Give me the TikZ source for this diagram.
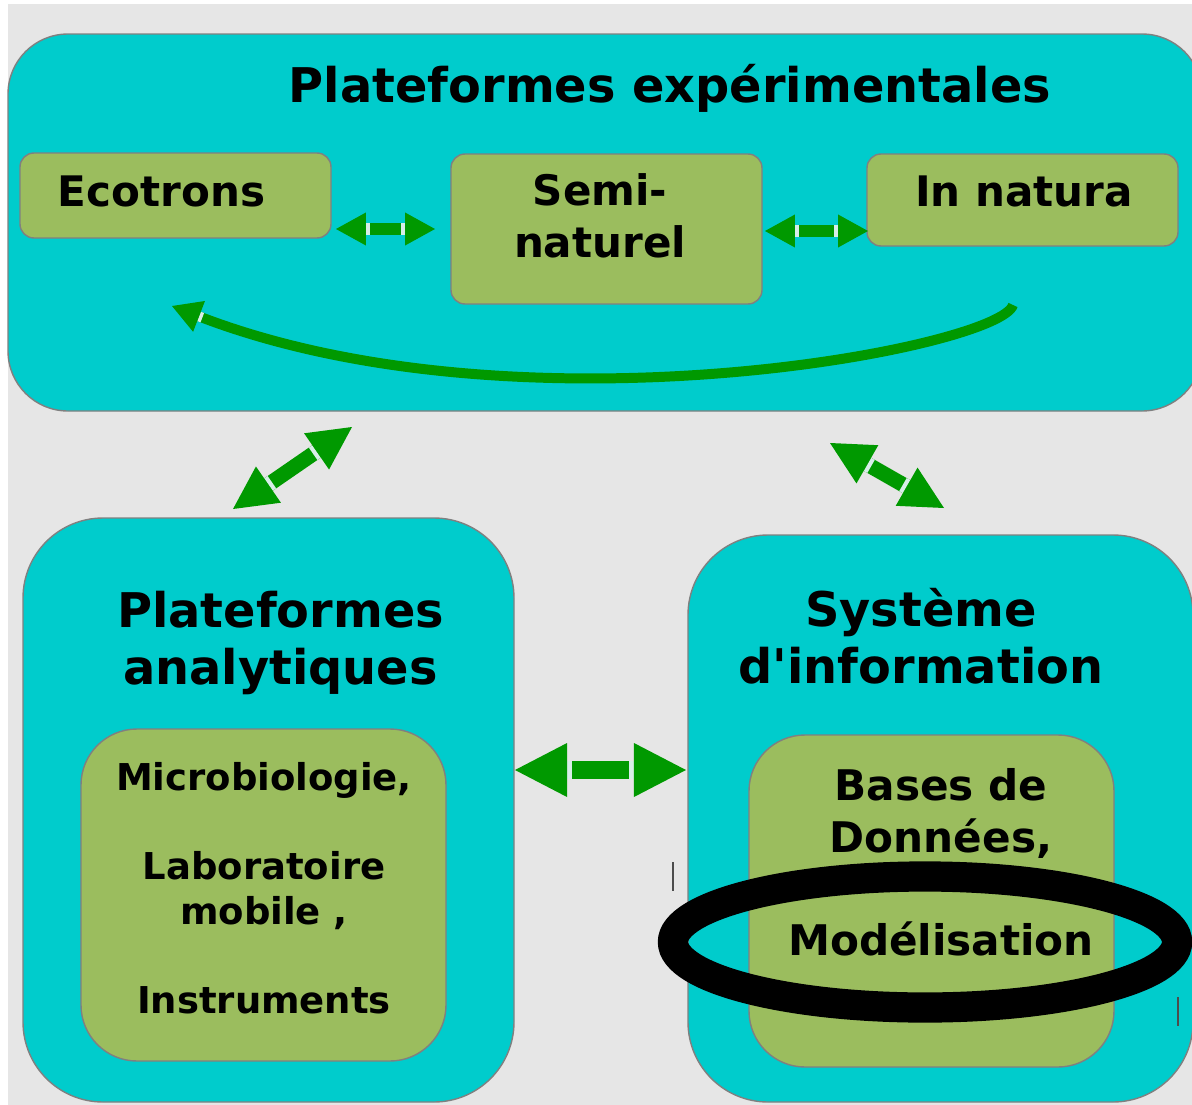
\documentclass[tikz,border=0pt]{standalone}
\usepackage{fontspec}
\setmainfont{DejaVu Sans}
\usetikzlibrary{arrows.meta, positioning, fit, shapes.geometric}
\definecolor{bggray}{RGB}{230,230,230}
\definecolor{platcyan}{RGB}{0,204,204}
\definecolor{boxgreen}{RGB}{155,189,94}
\definecolor{arrgreen}{RGB}{0,153,0}
\definecolor{rimgray}{RGB}{128,128,128}
\definecolor{slitcol}{RGB}{215,238,232}
\newcommand\ttlfont{\fontsize{34}{40.5}\selectfont\bfseries}
\newcommand\boxfont{\fontsize{29.9}{36.3}\selectfont\bfseries}
\newcommand\bddfont{\fontsize{30}{36.6}\selectfont\bfseries}
\newcommand\labfont{\fontsize{26.3}{31.6}\selectfont\bfseries}

\begin{document}
\begin{tikzpicture}[
  x=0.025cm, y=-0.025cm,
  bigbox/.style={draw=rimgray, line width=1pt, fill=platcyan, inner sep=0pt},
  subbox/.style={draw=rimgray, line width=1pt, fill=boxgreen, inner sep=0pt},
  txt/.style={inner sep=0pt, anchor=base, align=center},
  dbl/.style n args={4}{draw=arrgreen, line width=#1,
    arrows={{Triangle[length=#2, width=#3, line width=0pt, sep=0pt] Rectangle[length=#4, width=#1, line width=0pt, sep=0pt, color=slitcol, fill=slitcol]}-{Rectangle[length=#4, width=#1, line width=0pt, sep=0pt, color=slitcol, fill=slitcol] Triangle[length=#2, width=#3, line width=0pt, sep=0pt]}}},
  arrsmall/.style={dbl={8.5pt}{21.3pt}{23.5pt}{2.8pt}},
  arrdiag/.style={dbl={10.7pt}{30.6pt}{31.3pt}{3pt}},
  arrmid/.style={dbl={12.8pt}{37pt}{38.4pt}{3.5pt}},
  arrcurve/.style={draw=arrgreen, line width=7.1pt,
    -{Rectangle[length=2.5pt, width=7.1pt, line width=0pt, sep=0pt, color=slitcol, fill=slitcol] Triangle[length=20.6pt, width=23.5pt, line width=0pt, sep=0pt]}},
]
\fill[white] (0,0) rectangle (1192,1105);
\useasboundingbox (0,0) rectangle (1192,1105);
\clip (0,0) rectangle (1192,1105);
\fill[bggray] (8,4) rectangle (1192,1105);

% Plateformes experimentales
\node[bigbox, rounded corners=1.5cm, fit={(8,34) (1202,411)}] (expe) {};
\node[txt, font=\ttlfont] (expe-t) at (670,102) {Plateformes expérimentales};
\node[subbox, rounded corners=0.35cm, fit={(20,153) (331,238)}] (eco) {};
\node[subbox, rounded corners=0.35cm, fit={(451,154) (762,304)}] (semi) {};
\node[subbox, rounded corners=0.35cm, fit={(867,154) (1178,246)}] (natura) {};
\node[txt, font=\boxfont] (eco-t) at (161.5,206) {Ecotrons};
\node[txt, font=\boxfont] (semi-t) at (600,257) {Semi-\\naturel};
\node[txt, font=\boxfont] (natura-t) at (1024,206) {In natura};

% arrows inside the top box
\coordinate (eco-r) at (336,229);
\coordinate (semi-l) at (435,229);
\coordinate (semi-r) at (765,231);
\coordinate (natura-l) at (868,231);
\coordinate (natura-b) at (1013,305);
\coordinate (eco-b) at (172,306);
\draw[arrsmall] (eco-r) -- (semi-l);
\draw[arrsmall] (semi-r) -- (natura-l);
\draw[arrcurve] (natura-b) .. controls (1000,348) and (520,440) .. (eco-b);

% Plateformes analytiques
\node[bigbox, rounded corners=2cm, fit={(23,518) (514,1102)}] (analy) {};
\node[subbox, rounded corners=1.4cm, fit={(81,729) (446,1061)}] (labo) {};
\node[txt, font=\ttlfont] (analy-t) at (280.5,684) {Plateformes\\analytiques};
\node[txt, font=\labfont] (labo-t) at (264,1013)
  {Microbiologie,\\ \mbox{}\\ Laboratoire\\ mobile ,\\ \mbox{}\\ Instruments};

% Systeme d'information
\node[bigbox, rounded corners=2cm, fit={(688,535) (1193,1102)}] (sysinfo) {};
\node[subbox, rounded corners=1.4cm, fit={(749,735) (1114,1067)}] (bdd) {};
\node[txt, font=\ttlfont] (sys-t) at (921,683) {Système\\d\textquotesingle information};
\node[txt, font=\bddfont] (bdd-t) at (941,955) {Bases de\\Données,\\ \mbox{}\\ Modélisation};
\node[draw, ellipse, line width=21.5pt, inner sep=0pt,
      minimum width=12.6cm, minimum height=3.275cm] (modring) at (925,942) {};

% arrows between the platforms
\coordinate (expe-sw) at (352,427);
\coordinate (analy-n) at (233,509);
\coordinate (expe-se) at (830,443);
\coordinate (sys-n) at (944,508);
\coordinate (analy-e) at (515,770);
\coordinate (sys-w) at (686,770);
\draw[arrdiag] (analy-n) -- (expe-sw);
\draw[arrdiag] (expe-se) -- (sys-n);
\draw[arrmid] (analy-e) -- (sys-w);

% stray marks
\draw[black!70, line width=0.8pt] (673,862) -- (673,891);
\draw[black!70, line width=0.8pt] (1178,997) -- (1178,1026);
\end{tikzpicture}
\end{document}
